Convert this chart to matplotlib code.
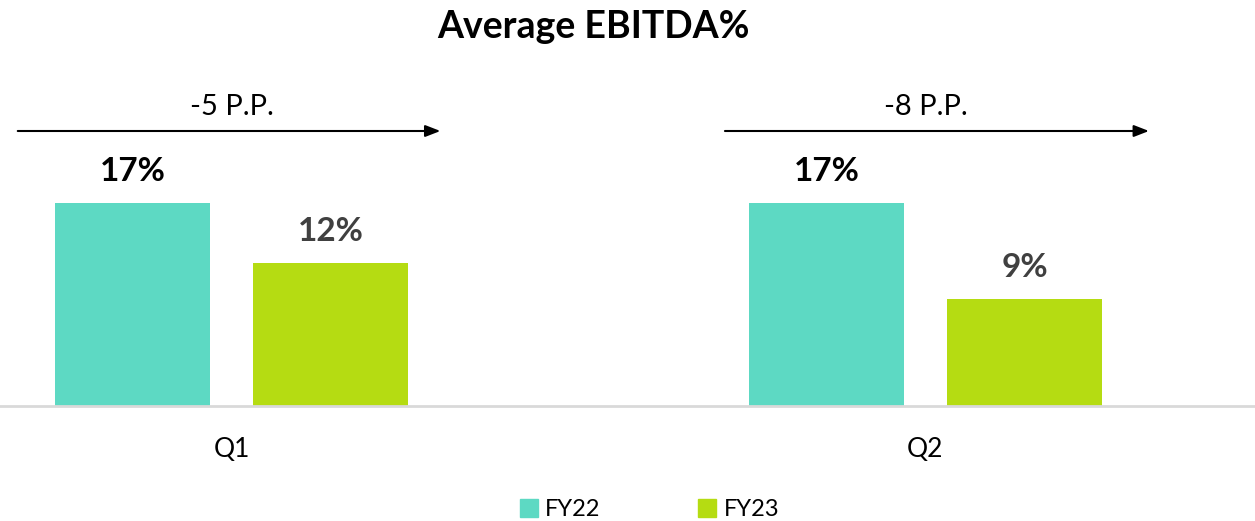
import matplotlib.pyplot as plt
import numpy as np
from matplotlib.lines import Line2D

plt.rcParams['font.family'] = ['Lato', 'DejaVu Sans']

quarters = ['Q1', 'Q2']
series = ['FY22', 'FY23']
fy22 = [17, 17]
fy23 = [12, 9]
deltas = ['-5 P.P.', '-8 P.P.']
colors = ['#5DD9C3', '#B5DC12']
label_colors = ['#000000', '#404040']

W, H = 1255, 521
fig = plt.figure(figsize=(W / 100, H / 100), dpi=100)
# axes bottom at the baseline, spanning full width
ax = fig.add_axes([0, (H - 406) / H, 1, (406 - 40) / H])

x = np.arange(len(quarters))
off = 99 / 694
bw = 155 / 694
ax.set_xlim(-231.5 / 694, (W - 231.5) / 694)
ppu = 11.94  # pixels per percent
ax.set_ylim(0, (406 - 40) / ppu)

for vals, dx, c, lc in [(fy22, -off, colors[0], label_colors[0]),
                        (fy23, off, colors[1], label_colors[1])]:
    bars = ax.bar(x + dx, vals, width=bw, color=c, zorder=2)
    for b, v in zip(bars, vals):
        ax.annotate(f'{v}%', (b.get_x() + b.get_width() / 2, v),
                    xytext=(0, 12), textcoords='offset points',
                    ha='center', va='bottom', fontsize=24,
                    fontweight='bold', color=lc)

# change arrows
arr_y = (406 - 131) / ppu
arrow_spans = [(-0.312, 0.305), (-0.293, 0.326)]
for i, (d, (a0, a1)) in enumerate(zip(deltas, arrow_spans)):
    ax.annotate('', xy=(i + a1, arr_y), xytext=(i + a0, arr_y),
                arrowprops=dict(arrowstyle='-|>,head_length=0.9,head_width=0.35',
                                color='black', lw=1.5), annotation_clip=False)
    ax.text(i, arr_y + 11 / ppu, d, ha='center', va='bottom', fontsize=21)

for s in ['top', 'right', 'left']:
    ax.spines[s].set_visible(False)
ax.spines['bottom'].set_color('#D9D9D9')
ax.spines['bottom'].set_linewidth(2)
ax.set_yticks([])
ax.set_xticks(x)
ax.set_xticklabels(quarters, fontsize=19)
ax.tick_params(axis='x', length=0, pad=22)

fig.text(593 / W, 1 - 27 / H, 'Average EBITDA%', ha='center', va='center',
         fontsize=27, fontweight='bold')

handles = [Line2D([], [], marker='s', linestyle='', markersize=13,
                  markerfacecolor=c, markeredgecolor=c) for c in colors]
fig.legend(handles, series, loc='center', bbox_to_anchor=(648 / W, 1 - 510 / H),
           ncol=2, frameon=False, fontsize=17, handletextpad=0.2,
           columnspacing=4.0, handlelength=1.0)

fig.savefig('out.png', dpi=100)
